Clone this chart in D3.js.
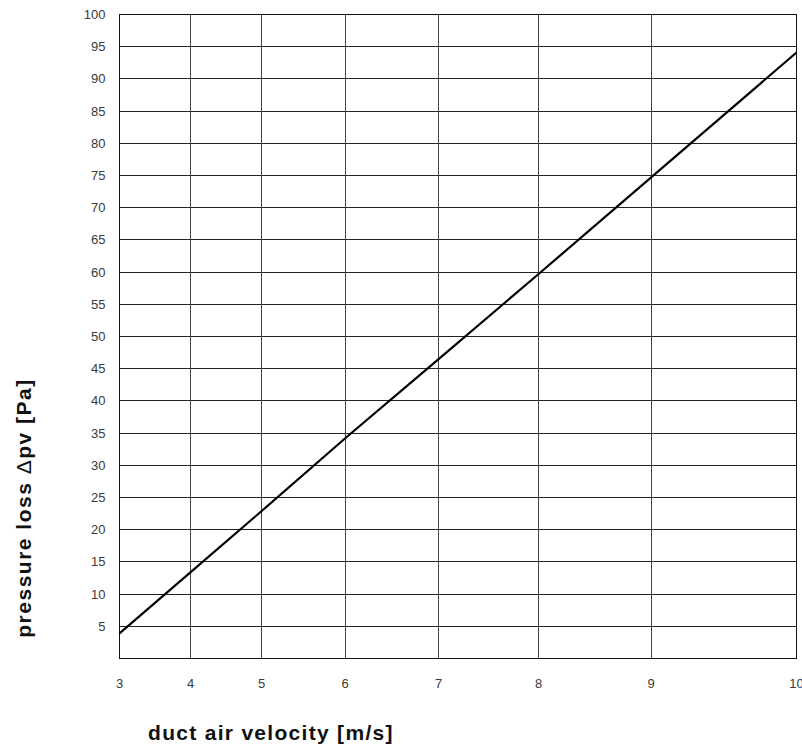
<!DOCTYPE html>
<html>
<head>
<meta charset="utf-8">
<script src="https://cdn.jsdelivr.net/npm/d3@7"></script>
<style>
  body { margin: 0; background: #fff; }
  text { font-family: "Liberation Sans", Arial, sans-serif; }
</style>
</head>
<body>
<svg id="chart" width="802" height="744"></svg>
<script>
// chart values
const velocity = [3, 4, 5, 6, 7, 8, 9, 10];           // m/s
const pressureLoss = [3.9, 13.4, 22.9, 34.2, 46.5, 59.7, 74.7, 94.1]; // Pa
const yTicks = [5, 10, 15, 20, 25, 30, 35, 40, 45, 50, 55, 60, 65, 70, 75, 80, 85, 90, 95, 100];

const svg = d3.select("#chart");
const margin = { top: 14.5, right: 5.5, bottom: 85.5, left: 119.5 };
const width = 802, height = 744;
const plotW = width - margin.left - margin.right;
const plotH = height - margin.top - margin.bottom;

// the velocity axis in the source is not evenly spaced: place each tick where it sits
const tickPos = [0, 71.2, 142.2, 225.8, 319.2, 419.2, 531.8, 677.2];
const x = d3.scaleLinear().domain(velocity).range(tickPos.map(p => p / 677.2 * plotW));
const y = d3.scaleLinear().domain([0, 100]).range([plotH, 0]);

const g = svg.append("g").attr("transform", `translate(${margin.left},${margin.top})`);

// grid
g.append("g")
  .selectAll("line")
  .data(yTicks)
  .join("line")
  .attr("x1", 0).attr("x2", plotW)
  .attr("y1", d => Math.round(y(d))).attr("y2", d => Math.round(y(d)))
  .attr("stroke", "#222").attr("stroke-width", 1);

g.append("g")
  .selectAll("line")
  .data(velocity)
  .join("line")
  .attr("x1", d => Math.round(x(d))).attr("x2", d => Math.round(x(d)))
  .attr("y1", 0).attr("y2", plotH)
  .attr("stroke", "#444").attr("stroke-width", 1);

// frame
g.append("rect")
  .attr("width", plotW).attr("height", plotH)
  .attr("fill", "none").attr("stroke", "#111").attr("stroke-width", 1);

// line
const line = d3.line()
  .x((d, i) => x(velocity[i]))
  .y(d => y(d));

g.append("path")
  .datum(pressureLoss)
  .attr("d", line)
  .attr("fill", "none")
  .attr("stroke", "#000")
  .attr("stroke-width", 2.2);

// tick labels
g.append("g")
  .selectAll("text")
  .data([100].concat(yTicks.slice(0, -1)))
  .join("text")
  .attr("x", -14)
  .attr("y", d => y(d))
  .attr("dy", "0.35em")
  .attr("text-anchor", "end")
  .attr("font-size", 13)
  .attr("fill", "#3a3a3a")
  .text(d => d);

g.append("g")
  .selectAll("text")
  .data(velocity)
  .join("text")
  .attr("x", d => x(d))
  .attr("y", plotH + 24.5)
  .attr("dy", "0.35em")
  .attr("text-anchor", "middle")
  .attr("font-size", 13)
  .attr("fill", "#3a3a3a")
  .text(d => d);

// axis titles
svg.append("text")
  .attr("x", 148)
  .attr("y", 740)
  .attr("font-size", 21)
  .attr("font-weight", "bold")
  .attr("letter-spacing", 1.3)
  .attr("fill", "#111")
  .text("duct air velocity [m/s]");

const yTitle = svg.append("text")
  .attr("transform", "translate(31,508) rotate(-90)")
  .attr("text-anchor", "middle")
  .attr("font-size", 21)
  .attr("font-weight", "bold")
  .attr("letter-spacing", 1.5)
  .attr("fill", "#111");
yTitle.append("tspan").text("pressure loss ");
yTitle.append("tspan").attr("font-weight", "normal").text("Δ");
yTitle.append("tspan").text("pv [Pa]");
</script>
</body>
</html>
